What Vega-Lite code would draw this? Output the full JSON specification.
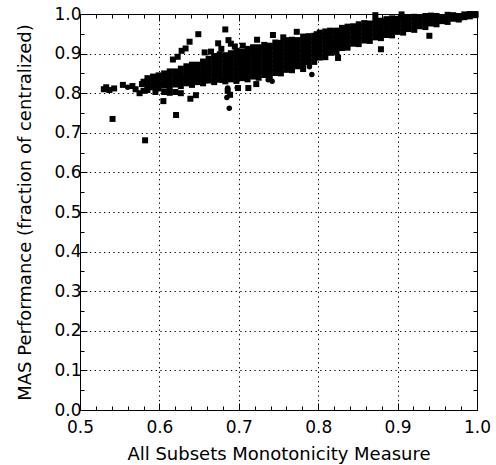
{
"$schema":"https://vega.github.io/schema/vega-lite/v6.json",
"width":397,"height":396,
"autosize":{"type":"none"},
"padding":{"left":80,"top":14,"right":19,"bottom":55},
"background":"white",
"config":{"view":{"stroke":"black","strokeWidth":1}},
"datasets":{
"circles":[
{"x":0.688,"y":0.762},{"x":0.685,"y":0.789},{"x":0.686,"y":0.813},{"x":0.678,"y":0.833},{"x":0.698,"y":0.814},{"x":0.737,"y":0.834},{"x":0.742,"y":0.830},{"x":0.749,"y":0.851},{"x":0.792,"y":0.847},{"x":0.789,"y":0.867},{"x":0.670,"y":0.835},{"x":0.660,"y":0.832},{"x":0.850,"y":0.930},{"x":0.900,"y":0.955},{"x":0.950,"y":0.980},{"x":0.800,"y":0.900},{"x":0.750,"y":0.880},{"x":0.700,"y":0.860},{"x":0.650,"y":0.840},{"x":0.600,"y":0.820},{"x":0.560,"y":0.815},{"x":0.980,"y":0.990},{"x":0.820,"y":0.920},{"x":0.880,"y":0.950},{"x":0.720,"y":0.870},{"x":0.630,"y":0.835}
],
"squares":[
{"x":0.530,"y":0.810},{"x":0.533,"y":0.815},{"x":0.537,"y":0.808},{"x":0.543,"y":0.812},{"x":0.541,"y":0.735},{"x":0.554,"y":0.821},{"x":0.566,"y":0.818},{"x":0.570,"y":0.810},{"x":0.575,"y":0.800},{"x":0.580,"y":0.806},{"x":0.578,"y":0.823},{"x":0.580,"y":0.829},{"x":0.582,"y":0.681},{"x":0.605,"y":0.780},{"x":0.606,"y":0.803},{"x":0.613,"y":0.801},{"x":0.620,"y":0.803},{"x":0.627,"y":0.800},{"x":0.621,"y":0.745},{"x":0.639,"y":0.786},{"x":0.646,"y":0.795},{"x":0.595,"y":0.803},{"x":0.617,"y":0.885},{"x":0.623,"y":0.892},{"x":0.628,"y":0.907},{"x":0.633,"y":0.913},{"x":0.638,"y":0.930},{"x":0.649,"y":0.949},{"x":0.657,"y":0.903},{"x":0.674,"y":0.926},{"x":0.687,"y":0.934},{"x":0.683,"y":0.961},{"x":0.665,"y":0.905},{"x":0.678,"y":0.912},{"x":0.695,"y":0.918},{"x":0.705,"y":0.920},{"x":0.690,"y":0.925},{"x":0.686,"y":0.806},{"x":0.689,"y":0.796},{"x":0.699,"y":0.813},{"x":0.712,"y":0.813},{"x":0.722,"y":0.823},{"x":0.723,"y":0.935},{"x":0.743,"y":0.947},{"x":0.756,"y":0.941},{"x":0.773,"y":0.955},{"x":0.781,"y":0.861},{"x":0.798,"y":0.949},{"x":0.815,"y":0.958},{"x":0.825,"y":0.889},{"x":0.879,"y":0.911},{"x":0.940,"y":0.945},{"x":0.872,"y":0.997},{"x":0.905,"y":0.999},
{"x":0.585,"y":0.808},{"x":0.585,"y":0.819},{"x":0.585,"y":0.830},{"x":0.585,"y":0.838},
{"x":0.592,"y":0.815},{"x":0.592,"y":0.826},{"x":0.592,"y":0.837},{"x":0.592,"y":0.842},
{"x":0.599,"y":0.812},{"x":0.599,"y":0.823},{"x":0.599,"y":0.834},{"x":0.599,"y":0.845},
{"x":0.606,"y":0.819},{"x":0.606,"y":0.830},{"x":0.606,"y":0.841},{"x":0.606,"y":0.850},
{"x":0.613,"y":0.815},{"x":0.613,"y":0.826},{"x":0.613,"y":0.837},{"x":0.613,"y":0.848},{"x":0.613,"y":0.855},
{"x":0.620,"y":0.822},{"x":0.620,"y":0.833},{"x":0.620,"y":0.844},{"x":0.620,"y":0.855},
{"x":0.627,"y":0.818},{"x":0.627,"y":0.829},{"x":0.627,"y":0.840},{"x":0.627,"y":0.851},{"x":0.627,"y":0.862},
{"x":0.634,"y":0.825},{"x":0.634,"y":0.836},{"x":0.634,"y":0.847},{"x":0.634,"y":0.858},{"x":0.634,"y":0.868},
{"x":0.641,"y":0.821},{"x":0.641,"y":0.832},{"x":0.641,"y":0.843},{"x":0.641,"y":0.854},{"x":0.641,"y":0.865},{"x":0.641,"y":0.872},
{"x":0.648,"y":0.828},{"x":0.648,"y":0.839},{"x":0.648,"y":0.850},{"x":0.648,"y":0.861},{"x":0.648,"y":0.872},
{"x":0.655,"y":0.825},{"x":0.655,"y":0.836},{"x":0.655,"y":0.847},{"x":0.655,"y":0.858},{"x":0.655,"y":0.869},{"x":0.655,"y":0.880},
{"x":0.662,"y":0.832},{"x":0.662,"y":0.843},{"x":0.662,"y":0.854},{"x":0.662,"y":0.865},{"x":0.662,"y":0.876},{"x":0.662,"y":0.887},
{"x":0.669,"y":0.828},{"x":0.669,"y":0.839},{"x":0.669,"y":0.850},{"x":0.669,"y":0.861},{"x":0.669,"y":0.872},{"x":0.669,"y":0.883},{"x":0.669,"y":0.894},
{"x":0.676,"y":0.834},{"x":0.676,"y":0.845},{"x":0.676,"y":0.856},{"x":0.676,"y":0.867},{"x":0.676,"y":0.878},{"x":0.676,"y":0.889},{"x":0.676,"y":0.898},
{"x":0.683,"y":0.830},{"x":0.683,"y":0.841},{"x":0.683,"y":0.852},{"x":0.683,"y":0.863},{"x":0.683,"y":0.874},{"x":0.683,"y":0.885},{"x":0.683,"y":0.896},
{"x":0.690,"y":0.835},{"x":0.690,"y":0.846},{"x":0.690,"y":0.857},{"x":0.690,"y":0.868},{"x":0.690,"y":0.879},{"x":0.690,"y":0.890},{"x":0.690,"y":0.901},
{"x":0.697,"y":0.831},{"x":0.697,"y":0.842},{"x":0.697,"y":0.853},{"x":0.697,"y":0.864},{"x":0.697,"y":0.875},{"x":0.697,"y":0.886},{"x":0.697,"y":0.897},{"x":0.697,"y":0.907},
{"x":0.704,"y":0.838},{"x":0.704,"y":0.849},{"x":0.704,"y":0.860},{"x":0.704,"y":0.871},{"x":0.704,"y":0.882},{"x":0.704,"y":0.893},{"x":0.704,"y":0.904},
{"x":0.711,"y":0.835},{"x":0.711,"y":0.846},{"x":0.711,"y":0.857},{"x":0.711,"y":0.868},{"x":0.711,"y":0.879},{"x":0.711,"y":0.890},{"x":0.711,"y":0.901},{"x":0.711,"y":0.912},
{"x":0.718,"y":0.842},{"x":0.718,"y":0.853},{"x":0.718,"y":0.864},{"x":0.718,"y":0.875},{"x":0.718,"y":0.886},{"x":0.718,"y":0.897},{"x":0.718,"y":0.908},{"x":0.718,"y":0.916},
{"x":0.725,"y":0.839},{"x":0.725,"y":0.850},{"x":0.725,"y":0.861},{"x":0.725,"y":0.872},{"x":0.725,"y":0.883},{"x":0.725,"y":0.894},{"x":0.725,"y":0.905},{"x":0.725,"y":0.916},
{"x":0.732,"y":0.846},{"x":0.732,"y":0.857},{"x":0.732,"y":0.868},{"x":0.732,"y":0.879},{"x":0.732,"y":0.890},{"x":0.732,"y":0.901},{"x":0.732,"y":0.912},{"x":0.732,"y":0.922},
{"x":0.739,"y":0.843},{"x":0.739,"y":0.854},{"x":0.739,"y":0.865},{"x":0.739,"y":0.876},{"x":0.739,"y":0.887},{"x":0.739,"y":0.898},{"x":0.739,"y":0.909},{"x":0.739,"y":0.920},
{"x":0.746,"y":0.851},{"x":0.746,"y":0.862},{"x":0.746,"y":0.873},{"x":0.746,"y":0.884},{"x":0.746,"y":0.895},{"x":0.746,"y":0.906},{"x":0.746,"y":0.917},{"x":0.746,"y":0.928},
{"x":0.753,"y":0.850},{"x":0.753,"y":0.861},{"x":0.753,"y":0.872},{"x":0.753,"y":0.883},{"x":0.753,"y":0.894},{"x":0.753,"y":0.905},{"x":0.753,"y":0.916},{"x":0.753,"y":0.927},
{"x":0.760,"y":0.859},{"x":0.760,"y":0.870},{"x":0.760,"y":0.881},{"x":0.760,"y":0.892},{"x":0.760,"y":0.903},{"x":0.760,"y":0.914},{"x":0.760,"y":0.925},{"x":0.760,"y":0.934},
{"x":0.767,"y":0.858},{"x":0.767,"y":0.869},{"x":0.767,"y":0.880},{"x":0.767,"y":0.891},{"x":0.767,"y":0.902},{"x":0.767,"y":0.913},{"x":0.767,"y":0.924},{"x":0.767,"y":0.935},
{"x":0.774,"y":0.868},{"x":0.774,"y":0.879},{"x":0.774,"y":0.890},{"x":0.774,"y":0.901},{"x":0.774,"y":0.912},{"x":0.774,"y":0.923},{"x":0.774,"y":0.934},
{"x":0.781,"y":0.868},{"x":0.781,"y":0.879},{"x":0.781,"y":0.890},{"x":0.781,"y":0.901},{"x":0.781,"y":0.912},{"x":0.781,"y":0.923},{"x":0.781,"y":0.934},{"x":0.781,"y":0.943},
{"x":0.788,"y":0.878},{"x":0.788,"y":0.889},{"x":0.788,"y":0.900},{"x":0.788,"y":0.911},{"x":0.788,"y":0.922},{"x":0.788,"y":0.933},{"x":0.788,"y":0.944},
{"x":0.795,"y":0.879},{"x":0.795,"y":0.890},{"x":0.795,"y":0.901},{"x":0.795,"y":0.912},{"x":0.795,"y":0.923},{"x":0.795,"y":0.934},{"x":0.795,"y":0.945},
{"x":0.802,"y":0.890},{"x":0.802,"y":0.901},{"x":0.802,"y":0.912},{"x":0.802,"y":0.923},{"x":0.802,"y":0.934},{"x":0.802,"y":0.945},{"x":0.802,"y":0.953},
{"x":0.809,"y":0.891},{"x":0.809,"y":0.902},{"x":0.809,"y":0.913},{"x":0.809,"y":0.924},{"x":0.809,"y":0.935},{"x":0.809,"y":0.946},{"x":0.809,"y":0.956},
{"x":0.816,"y":0.902},{"x":0.816,"y":0.913},{"x":0.816,"y":0.924},{"x":0.816,"y":0.935},{"x":0.816,"y":0.946},{"x":0.816,"y":0.957},
{"x":0.823,"y":0.903},{"x":0.823,"y":0.914},{"x":0.823,"y":0.925},{"x":0.823,"y":0.936},{"x":0.823,"y":0.947},{"x":0.823,"y":0.958},
{"x":0.830,"y":0.914},{"x":0.830,"y":0.925},{"x":0.830,"y":0.936},{"x":0.830,"y":0.947},{"x":0.830,"y":0.958},{"x":0.830,"y":0.965},
{"x":0.837,"y":0.915},{"x":0.837,"y":0.926},{"x":0.837,"y":0.937},{"x":0.837,"y":0.948},{"x":0.837,"y":0.959},{"x":0.837,"y":0.968},
{"x":0.844,"y":0.925},{"x":0.844,"y":0.936},{"x":0.844,"y":0.947},{"x":0.844,"y":0.958},{"x":0.844,"y":0.969},
{"x":0.851,"y":0.924},{"x":0.851,"y":0.935},{"x":0.851,"y":0.946},{"x":0.851,"y":0.957},{"x":0.851,"y":0.968},{"x":0.851,"y":0.974},
{"x":0.858,"y":0.933},{"x":0.858,"y":0.944},{"x":0.858,"y":0.955},{"x":0.858,"y":0.966},{"x":0.858,"y":0.977},
{"x":0.865,"y":0.932},{"x":0.865,"y":0.943},{"x":0.865,"y":0.954},{"x":0.865,"y":0.965},{"x":0.865,"y":0.976},
{"x":0.872,"y":0.941},{"x":0.872,"y":0.952},{"x":0.872,"y":0.963},{"x":0.872,"y":0.974},{"x":0.872,"y":0.983},
{"x":0.879,"y":0.939},{"x":0.879,"y":0.950},{"x":0.879,"y":0.961},{"x":0.879,"y":0.972},{"x":0.879,"y":0.983},
{"x":0.886,"y":0.947},{"x":0.886,"y":0.958},{"x":0.886,"y":0.969},{"x":0.886,"y":0.980},{"x":0.886,"y":0.987},
{"x":0.893,"y":0.946},{"x":0.893,"y":0.957},{"x":0.893,"y":0.968},{"x":0.893,"y":0.979},{"x":0.893,"y":0.989},
{"x":0.900,"y":0.955},{"x":0.900,"y":0.966},{"x":0.900,"y":0.977},{"x":0.900,"y":0.988},
{"x":0.907,"y":0.953},{"x":0.907,"y":0.964},{"x":0.907,"y":0.975},{"x":0.907,"y":0.986},{"x":0.907,"y":0.991},
{"x":0.914,"y":0.962},{"x":0.914,"y":0.973},{"x":0.914,"y":0.984},{"x":0.914,"y":0.992},
{"x":0.921,"y":0.960},{"x":0.921,"y":0.971},{"x":0.921,"y":0.982},{"x":0.921,"y":0.993},
{"x":0.928,"y":0.969},{"x":0.928,"y":0.980},{"x":0.928,"y":0.991},
{"x":0.935,"y":0.967},{"x":0.935,"y":0.978},{"x":0.935,"y":0.989},{"x":0.935,"y":0.995},
{"x":0.942,"y":0.976},{"x":0.942,"y":0.987},{"x":0.942,"y":0.996},
{"x":0.949,"y":0.974},{"x":0.949,"y":0.985},{"x":0.949,"y":0.995},
{"x":0.956,"y":0.982},{"x":0.956,"y":0.992},
{"x":0.963,"y":0.980},{"x":0.963,"y":0.990},{"x":0.963,"y":0.998},
{"x":0.970,"y":0.988},{"x":0.970,"y":0.997},
{"x":0.977,"y":0.986},{"x":0.977,"y":0.995},
{"x":0.984,"y":0.992},{"x":0.984,"y":0.999},
{"x":0.991,"y":0.994},{"x":0.991,"y":1.0},
{"x":0.998,"y":0.997},{"x":0.998,"y":1.0}
]
},
"layer":[
{"data":{"name":"circles"},
"mark":{"type":"point","shape":"circle","filled":true,"color":"black","size":30,"opacity":1,"strokeWidth":0},
"encoding":{
"x":{"field":"x","type":"quantitative","scale":{"domain":[0.5,1.0],"nice":false,"zero":false},
"axis":{"orient":"bottom","values":[0.5,0.52,0.54,0.56,0.58,0.6,0.62,0.64,0.66,0.68,0.7,0.72,0.74,0.76,0.78,0.8,0.82,0.84,0.86,0.88,0.9,0.92,0.94,0.96,0.98,1.0],
"labelExpr":"abs(datum.value*10-round(datum.value*10))<0.001 ? format(datum.value,'.1f') : ''",
"labelFont":"DejaVu Sans","labelFontSize":17,"labelColor":"black","labelFlush":false,"labelOverlap":false,"labelPadding":16,"labelBaseline":"top",
"tickSize":{"condition":{"test":"abs(datum.value*10-round(datum.value*10))<0.001","value":-7},"value":-4},
"tickColor":"black","tickWidth":1,"domain":false,
"grid":true,"gridColor":"black","gridDash":[1.3,3.4],"gridWidth":1,
"gridOpacity":{"condition":{"test":"abs(datum.value*10-round(datum.value*10))<0.001","value":1},"value":0},
"title":"All Subsets Monotonicity Measure","titleFont":"DejaVu Sans","titleFontSize":18,"titleFontWeight":"normal","titleColor":"black",
"titleX":198.5,"titleY":49,"titleBaseline":"alphabetic","titleAlign":"center"}},
"y":{"field":"y","type":"quantitative","scale":{"domain":[0,1.0],"nice":false,"zero":false},
"axis":{"orient":"left","values":[0,0.05,0.1,0.15,0.2,0.25,0.3,0.35,0.4,0.45,0.5,0.55,0.6,0.65,0.7,0.75,0.8,0.85,0.9,0.95,1.0],
"labelExpr":"abs(datum.value*10-round(datum.value*10))<0.001 ? format(datum.value,'.1f') : ''",
"labelFont":"DejaVu Sans","labelFontSize":17,"labelColor":"black","labelFlush":false,"labelOverlap":false,"labelPadding":6,
"tickSize":{"condition":{"test":"abs(datum.value*10-round(datum.value*10))<0.001","value":-7},"value":-4},
"tickColor":"black","tickWidth":1,"domain":false,
"grid":true,"gridColor":"black","gridDash":[1.3,3.4],"gridWidth":1,
"gridOpacity":{"condition":{"test":"abs(datum.value*10-round(datum.value*10))<0.001","value":1},"value":0},
"title":"MAS Performance (fraction of centralized)","titleFont":"DejaVu Sans","titleFontSize":18,"titleFontWeight":"normal","titleColor":"black",
"titleX":-50,"titleY":198,"titleBaseline":"alphabetic","titleAlign":"center","titleAngle":-90}}
}},
{"data":{"name":"squares"},
"mark":{"type":"point","shape":"square","filled":true,"color":"black","size":36,"opacity":1,"strokeWidth":0},
"encoding":{
"x":{"field":"x","type":"quantitative","scale":{"domain":[0.5,1.0],"nice":false,"zero":false},
"axis":{"orient":"top","values":[0.5,0.52,0.54,0.56,0.58,0.6,0.62,0.64,0.66,0.68,0.7,0.72,0.74,0.76,0.78,0.8,0.82,0.84,0.86,0.88,0.9,0.92,0.94,0.96,0.98,1.0],
"labels":false,"grid":false,"domain":false,"title":null,
"tickSize":{"condition":{"test":"abs(datum.value*10-round(datum.value*10))<0.001","value":-7},"value":-4},
"tickColor":"black","tickWidth":1}},
"y":{"field":"y","type":"quantitative","scale":{"domain":[0,1.0],"nice":false,"zero":false},
"axis":{"orient":"right","values":[0,0.05,0.1,0.15,0.2,0.25,0.3,0.35,0.4,0.45,0.5,0.55,0.6,0.65,0.7,0.75,0.8,0.85,0.9,0.95,1.0],
"labels":false,"grid":false,"domain":false,"title":null,
"tickSize":{"condition":{"test":"abs(datum.value*10-round(datum.value*10))<0.001","value":-7},"value":-4},
"tickColor":"black","tickWidth":1}}
}}
],
"resolve":{"axis":{"x":"independent","y":"independent"}}
}
